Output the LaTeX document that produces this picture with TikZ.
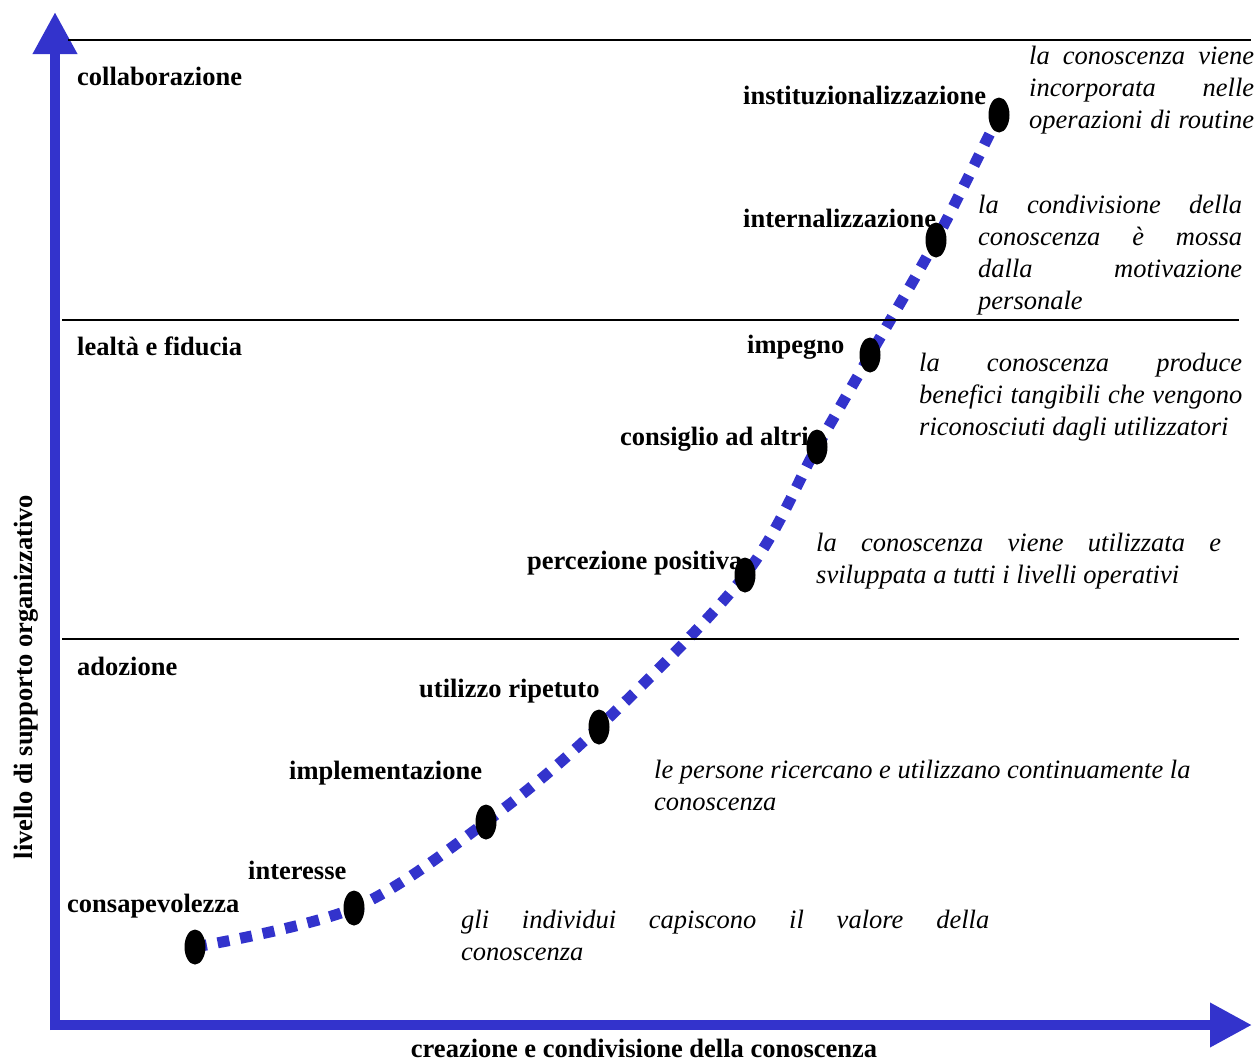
\documentclass[tikz,border=0pt]{standalone}
\usepackage{fontspec}
\setmainfont{Liberation Serif}
\usetikzlibrary{arrows.meta,shapes.geometric,backgrounds}
\definecolor{axisblue}{RGB}{51,51,204}
\begin{document}
\begin{tikzpicture}[x=1pt,y=-1pt,
  axisline/.style={draw=axisblue,line width=10pt,-{Triangle[width=42pt,length=42pt]}},
  bandline/.style={draw=black,line width=2.5pt},
  curveline/.style={draw=axisblue,line width=11pt,dash pattern=on 12pt off 11pt},
  dot/.style={ellipse,fill=black,minimum width=21pt,minimum height=35pt,inner sep=0pt},
  lab/.style={inner sep=0pt,anchor=base west,font=\fontsize{26.5}{32}\selectfont\bfseries},
  itx/.style={inner sep=0pt,anchor=base west,font=\fontsize{26.5}{32}\selectfont\itshape}]
\useasboundingbox (0,0) rectangle (1259,1063);

% axes
\coordinate (yb) at (55,1030);
\coordinate (yt) at (55,12);
\coordinate (xl) at (50,1025);
\coordinate (xr) at (1252,1025);
\draw[axisline] (yb) -- (yt);
\draw[axisline] (xl) -- (xr);

% band lines
\coordinate (l1a) at (68,40);  \coordinate (l1b) at (1251,40);
\coordinate (l2a) at (62,320); \coordinate (l2b) at (1239,320);
\coordinate (l3a) at (62,639); \coordinate (l3b) at (1239,639);
\draw[bandline] (l1a) -- (l1b);
\draw[bandline] (l2a) -- (l2b);
\draw[bandline] (l3a) -- (l3b);

% dots
\node[dot] (d1) at (195,947) {};
\node[dot] (d2) at (354,908) {};
\node[dot] (d3) at (486,822) {};
\node[dot] (d4) at (599,727) {};
\node[dot] (d5) at (745,575) {};
\node[dot] (d6) at (817,447) {};
\node[dot] (d7) at (870,355) {};
\node[dot] (d8) at (936,240) {};
\node[dot] (d9) at (999,115) {};

\begin{pgfonlayer}{background}
\draw[curveline] plot[smooth,tension=0.55] coordinates {(d1.center) (d2.center) (d3.center) (d4.center) (d5.center) (d6.center) (d7.center) (d8.center) (d9.center)};
\end{pgfonlayer}

% band labels
\node[lab] (b1) at (77,85) {collaborazione};
\node[lab] (b2) at (77,355) {lealtà e fiducia};
\node[lab] (b3) at (77,675) {adozione};

% stage labels
\node[lab] (s1) at (67,912) {consapevolezza};
\node[lab] (s2) at (248,879) {interesse};
\node[lab] (s3) at (289,779) {implementazione};
\node[lab] (s4) at (419,697) {utilizzo ripetuto};
\node[lab] (s5) at (527,569) {percezione positiva};
\node[lab] (s6) at (620,445) {consiglio ad altri};
\node[lab] (s7) at (747,353) {impegno};
\node[lab] (s8) at (743,227) {internalizzazione};
\node[lab] (s9) at (743,104) {instituzionalizzazione};

% descriptions
\node[itx] (t1a) at (1029,64) {\makebox[225pt][s]{la conoscenza viene}};
\node[itx] (t1b) at (1029,96) {\makebox[225pt][s]{incorporata nelle}};
\node[itx] (t1c) at (1029,128) {\makebox[225pt][s]{operazioni di routine}};

\node[itx] (t2a) at (978,213) {\makebox[264pt][s]{la condivisione della}};
\node[itx] (t2b) at (978,245) {\makebox[264pt][s]{conoscenza è mossa}};
\node[itx] (t2c) at (978,277) {\makebox[264pt][s]{dalla motivazione}};
\node[itx] (t2d) at (978,309) {personale};

\node[itx] (t3a) at (919,371) {\makebox[323pt][s]{la conoscenza produce}};
\node[itx] (t3b) at (919,403) {\makebox[323pt][s]{benefici tangibili che vengono}};
\node[itx] (t3c) at (919,435) {riconosciuti dagli utilizzatori};

\node[itx] (t4a) at (816,551) {\makebox[405pt][s]{la conoscenza viene utilizzata e}};
\node[itx] (t4b) at (816,583) {sviluppata a tutti i livelli operativi};

\node[itx] (t5a) at (654,778) {le persone ricercano e utilizzano continuamente la};
\node[itx] (t5b) at (654,810) {conoscenza};

\node[itx] (t6a) at (461,928) {\makebox[528pt][s]{gli individui capiscono il valore della}};
\node[itx] (t6b) at (461,960) {conoscenza};

% axis titles
\node[lab,anchor=base,rotate=90] (ya) at (32,677) {livello di supporto organizzativo};
\node[lab,anchor=base] (xa) at (644,1057) {creazione e condivisione della conoscenza};
\end{tikzpicture}
\end{document}
